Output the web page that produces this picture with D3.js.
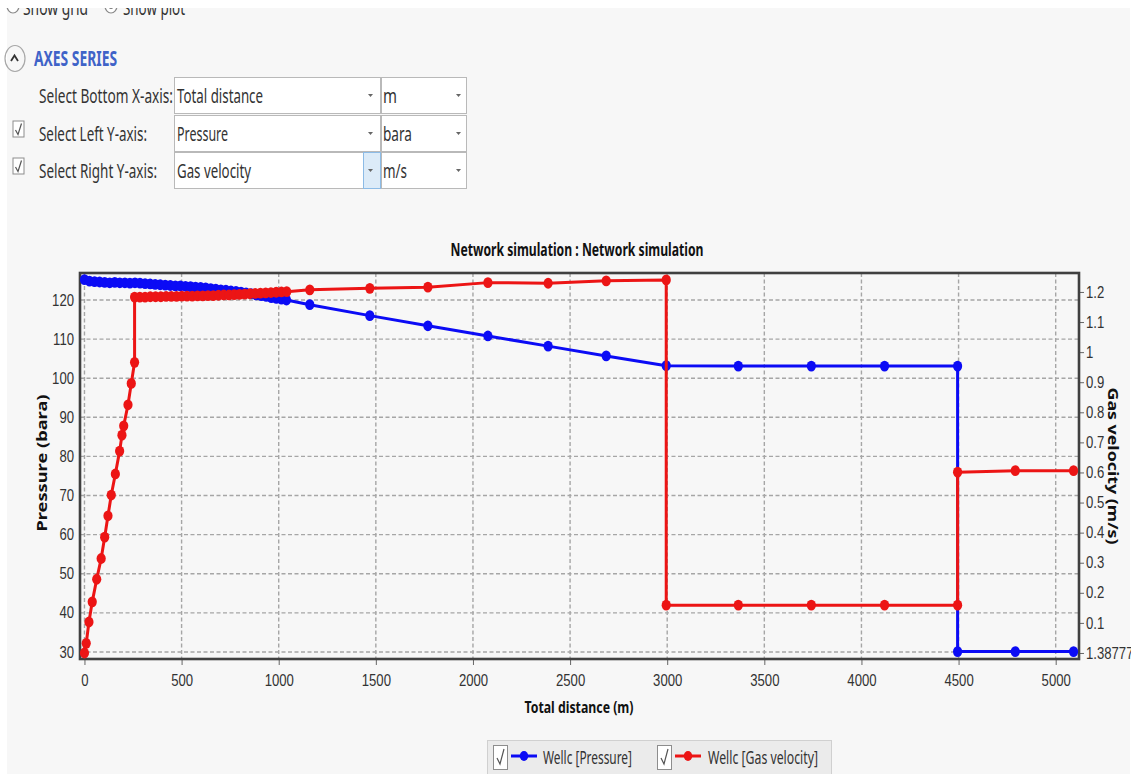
<!DOCTYPE html>
<html>
<head>
<meta charset="utf-8">
<script src="https://cdn.jsdelivr.net/npm/d3@7"></script>
<style>
  html, body { margin: 0; padding: 0; background: #ffffff; }
  svg { display: block; font-family: "Noto Sans", "Open Sans", sans-serif; }
</style>
</head>
<body>
<svg id="view" width="1135" height="774"></svg>
<script>
// ---- Axis ticks ----
const distanceTicks = [0, 500, 1000, 1500, 2000, 2500, 3000, 3500, 4000, 4500, 5000];
const pressureTicks = [30, 40, 50, 60, 70, 80, 90, 100, 110, 120];
const velocityTicks = [0, 0.1, 0.2, 0.3, 0.4, 0.5, 0.6, 0.7, 0.8, 0.9, 1, 1.1, 1.2];
const velocityTickLabels = ["1.38777e-17", "0.1", "0.2", "0.3", "0.4", "0.5", "0.6", "0.7", "0.8", "0.9", "1", "1.1", "1.2"];

// ---- Wellc [Pressure] (bara) vs total distance (m) ----
const pressureDistance = [
  0, 26, 52, 78, 104, 130, 156, 182, 208, 234, 260, 286, 312, 338, 364, 390, 416, 442, 468, 494,
  520, 546, 572, 598, 624, 650, 676, 702, 728, 754, 780, 806, 832, 858, 884, 910, 936, 962, 988, 1014, 1040,
  1160, 1469, 1768, 2077, 2387, 2686, 2995, 3366, 3742, 4119, 4495, 4495, 4792, 5092
];
const pressureValue = [
  125.2, 124.8, 124.7, 124.6, 124.5, 124.4, 124.5, 124.4, 124.4, 124.3, 124.4, 124.3, 124.2, 124.1, 124.0, 123.9, 123.8, 123.7, 123.6, 123.6,
  123.5, 123.4, 123.3, 123.2, 123.1, 122.9, 122.8, 122.6, 122.5, 122.3, 122.2, 122.0, 121.8, 121.6, 121.3, 121.1, 120.9, 120.6, 120.4, 120.2, 120.0,
  118.8, 116.0, 113.4, 110.8, 108.2, 105.7, 103.2, 103.1, 103.1, 103.1, 103.1, 30.1, 30.1, 30.1
];

// ---- Wellc [Gas velocity] (m/s) vs total distance (m) ----
const velocityDistance = [
  0, 9, 23, 40, 63, 86, 104, 121, 138, 159, 181, 193, 202, 224, 241, 258,
  258, 285, 312, 339, 366, 393, 420, 447, 474, 501, 528, 555, 582, 609, 636, 663, 690, 717, 744, 771,
  798, 825, 852, 879, 906, 933, 960, 987, 1014, 1041,
  1160, 1469, 1768, 2077, 2387, 2686, 2995, 2995, 3366, 3742, 4119, 4495, 4495, 4792, 5092
];
const velocityValue = [
  0.000, 0.032, 0.103, 0.170, 0.245, 0.314, 0.385, 0.456, 0.525, 0.595, 0.671, 0.724, 0.755, 0.825, 0.896, 0.966,
  1.183, 1.183, 1.183, 1.184, 1.184, 1.184, 1.185, 1.185, 1.185, 1.186, 1.186, 1.186, 1.187, 1.187, 1.188, 1.188, 1.189, 1.190, 1.190, 1.191,
  1.192, 1.193, 1.194, 1.195, 1.196, 1.197, 1.198, 1.199, 1.200, 1.201,
  1.207, 1.212, 1.216, 1.231, 1.229, 1.237, 1.240, 0.159, 0.159, 0.159, 0.159, 0.159, 0.601, 0.606, 0.606
];

const BLUE = "#0b0bf5";
const RED = "#ec1515";
const TEXT = "#333333";

const svg = d3.select("#view");

// squeeze a text element to a given drawn width
function fitWidth(sel, w) {
  sel.attr("textLength", w).attr("lengthAdjust", "spacingAndGlyphs");
  return sel;
}
function squeeze(sel, k) {
  sel.each(function () {
    const n = this.getComputedTextLength();
    d3.select(this).attr("textLength", n * k).attr("lengthAdjust", "spacingAndGlyphs");
  });
}

// ---- Panel background ----
svg.append("rect").attr("width", 1135).attr("height", 774).attr("fill", "#ffffff");
svg.append("rect").attr("x", 7).attr("y", 0).attr("width", 1123).attr("height", 774).attr("fill", "#f7f7f7");

// ---- Display options row (partly scrolled out of view) ----
const opts = svg.append("g");
opts.append("ellipse").attr("cx", 13).attr("cy", 6).attr("rx", 6).attr("ry", 7)
  .attr("fill", "#ffffff").attr("stroke", "#8a8a8a").attr("stroke-width", 1.2);
fitWidth(opts.append("text").attr("x", 23).attr("y", 15).attr("font-size", 20).attr("fill", TEXT).text("Show grid"), 65);
opts.append("ellipse").attr("cx", 111).attr("cy", 6).attr("rx", 6).attr("ry", 7)
  .attr("fill", "#ffffff").attr("stroke", "#8a8a8a").attr("stroke-width", 1.2);
opts.append("ellipse").attr("cx", 111).attr("cy", 6).attr("rx", 2.5).attr("ry", 3).attr("fill", "#777");
fitWidth(opts.append("text").attr("x", 123).attr("y", 15).attr("font-size", 20).attr("fill", TEXT).text("Show plot"), 62);
svg.append("rect").attr("x", 0).attr("y", 0).attr("width", 1135).attr("height", 8).attr("fill", "#ffffff");

// ---- AXES SERIES section header ----
svg.append("ellipse").attr("cx", 15).attr("cy", 58.5).attr("rx", 10).attr("ry", 13)
  .attr("fill", "none").attr("stroke", "#a8a8a8").attr("stroke-width", 1.2);
svg.append("path").attr("d", "M11,61 L14.5,55.5 L18,61").attr("fill", "none")
  .attr("stroke", "#333").attr("stroke-width", 1.8);
fitWidth(svg.append("text").attr("x", 34).attr("y", 66).attr("font-size", 21).attr("font-weight", 700)
  .attr("fill", "#3f63c8").text("AXES SERIES"), 83);

// ---- Axis selectors ----
const rows = [
  { label: "Select Bottom X-axis:", lw: 134, value: "Total distance", vw: 86, unit: "m", uw: 14, y: 77, check: false, hot: false },
  { label: "Select Left Y-axis:", lw: 108, value: "Pressure", vw: 51, unit: "bara", uw: 29, y: 115, check: true, hot: false },
  { label: "Select Right Y-axis:", lw: 118, value: "Gas velocity", vw: 74, unit: "m/s", uw: 24, y: 152, check: true, hot: true }
];
rows.forEach(r => {
  const g = svg.append("g");
  const h = 36;
  const base = r.y + 26;
  if (r.check) {
    g.append("rect").attr("x", 13).attr("y", r.y + 6).attr("width", 11).attr("height", 16)
      .attr("fill", "#ffffff").attr("stroke", "#8d8d8d").attr("stroke-width", 1);
    g.append("path").attr("d", `M15.5,${r.y + 15} L18,${r.y + 19.5} L21.5,${r.y + 8.5}`)
      .attr("fill", "none").attr("stroke", "#555").attr("stroke-width", 1.2);
  }
  fitWidth(g.append("text").attr("x", 39).attr("y", base).attr("font-size", 19).attr("fill", TEXT).text(r.label), r.lw);
  g.append("rect").attr("x", 174.5).attr("y", r.y + 0.5).attr("width", 206).attr("height", h)
    .attr("fill", "#ffffff").attr("stroke", "#b9b9b9");
  if (r.hot) {
    g.append("rect").attr("x", 363.5).attr("y", r.y + 0.5).attr("width", 17).attr("height", h)
      .attr("fill", "#dcebf8").attr("stroke", "#8cbbe6");
  }
  fitWidth(g.append("text").attr("x", 177).attr("y", base).attr("font-size", 19).attr("fill", TEXT).text(r.value), r.vw);
  g.append("path").attr("d", `M368,${r.y + 17} L373,${r.y + 17} L370.5,${r.y + 20} Z`).attr("fill", "#666");
  g.append("rect").attr("x", 381.5).attr("y", r.y + 0.5).attr("width", 85).attr("height", h)
    .attr("fill", "#ffffff").attr("stroke", "#b9b9b9");
  fitWidth(g.append("text").attr("x", 383).attr("y", base).attr("font-size", 19).attr("fill", TEXT).text(r.unit), r.uw);
  g.append("path").attr("d", `M456,${r.y + 17} L461,${r.y + 17} L458.5,${r.y + 20} Z`).attr("fill", "#666");
});

// ---- Chart ----
const L = 80, R = 1079, T = 273, B = 659;
const x = d3.scaleLinear().domain([-23, 5120]).range([L, R]);
const yL = d3.scaleLinear().domain([28.2, 126.9]).range([B, T]);
const yR = d3.scaleLinear().domain([-0.02, 1.263]).range([B, T]);

fitWidth(svg.append("text").attr("x", 577).attr("y", 256).attr("text-anchor", "middle")
  .attr("font-size", 17).attr("font-weight", 700).attr("fill", "#111")
  .text("Network simulation : Network simulation"), 253);

// grid
const grid = svg.append("g").attr("stroke", "#a6a6a6").attr("stroke-width", 1.4).attr("stroke-dasharray", "4,2.5");
grid.selectAll("line.v").data(distanceTicks).join("line").attr("class", "v")
  .attr("x1", d => x(d)).attr("x2", d => x(d)).attr("y1", T).attr("y2", B);
grid.selectAll("line.h").data(pressureTicks).join("line").attr("class", "h")
  .attr("x1", L).attr("x2", R).attr("y1", d => yL(d)).attr("y2", d => yL(d));

// bottom axis
const gx = svg.append("g").attr("transform", `translate(0,${B})`)
  .call(d3.axisBottom(x).tickValues(distanceTicks).tickSize(6).tickPadding(10).tickFormat(d3.format("d")));
gx.select(".domain").remove();
gx.selectAll(".tick line").attr("stroke", "#666").attr("stroke-width", 1);
gx.selectAll(".tick text").attr("font-size", 16).attr("fill", TEXT).attr("font-family", null);
squeeze(gx.selectAll(".tick text"), 0.82);

// left axis
const gl = svg.append("g").attr("transform", `translate(${L},0)`)
  .call(d3.axisLeft(yL).tickValues(pressureTicks).tickSize(0).tickPadding(6).tickFormat(d3.format("d")));
gl.select(".domain").remove();
gl.selectAll(".tick text").attr("font-size", 16).attr("fill", TEXT).attr("font-family", null);
squeeze(gl.selectAll(".tick text"), 0.82);

// right axis
const gr = svg.append("g").attr("transform", `translate(${R},0)`)
  .call(d3.axisRight(yR).tickValues(velocityTicks).tickSize(5).tickPadding(2)
    .tickFormat((d, i) => velocityTickLabels[i]));
gr.select(".domain").remove();
gr.selectAll(".tick line").attr("stroke", "#666").attr("stroke-width", 1);
gr.selectAll(".tick text").attr("font-size", 16).attr("fill", TEXT).attr("font-family", null);
squeeze(gr.selectAll(".tick text"), 0.82);

// frame
svg.append("rect").attr("x", L).attr("y", T).attr("width", R - L).attr("height", B - T)
  .attr("fill", "none").attr("stroke", "#404040").attr("stroke-width", 2.6);

// axis titles
fitWidth(svg.append("text").attr("x", 579).attr("y", 713).attr("text-anchor", "middle")
  .attr("font-size", 16).attr("font-weight", 700).attr("fill", "#111").text("Total distance (m)"), 109);
fitWidth(svg.append("text").attr("transform", "translate(47,463) rotate(-90)").attr("text-anchor", "middle")
  .attr("font-size", 15).attr("font-weight", 700).attr("fill", "#111").text("Pressure  (bara)"), 137);
fitWidth(svg.append("text").attr("transform", "translate(1108,466) rotate(90)").attr("text-anchor", "middle")
  .attr("font-size", 15).attr("font-weight", 700).attr("fill", "#111").text("Gas velocity  (m/s)"), 157);

// series
const pressure = pressureDistance.map((d, i) => ({ d, v: pressureValue[i] }));
const velocity = velocityDistance.map((d, i) => ({ d, v: velocityValue[i] }));

const plot = svg.append("g");
function drawSeries(data, y, color) {
  const g = plot.append("g");
  g.append("path").datum(data)
    .attr("d", d3.line().x(p => x(p.d)).y(p => y(p.v)))
    .attr("fill", "none").attr("stroke", color).attr("stroke-width", 3).attr("stroke-linejoin", "round");
  g.selectAll("ellipse").data(data).join("ellipse")
    .attr("cx", p => x(p.d)).attr("cy", p => y(p.v)).attr("rx", 4.6).attr("ry", 5.4).attr("fill", color);
}
drawSeries(pressure, yL, BLUE);
drawSeries(velocity, yR, RED);

// ---- Legend ----
const lg = svg.append("g");
lg.append("rect").attr("x", 487.5).attr("y", 740.5).attr("width", 344).attr("height", 40)
  .attr("fill", "#ebebeb").attr("stroke", "#d0d0d0");
const legendItems = [
  { label: "Wellc [Pressure]", color: BLUE, cx: 493, lx: 511, tx: 543, tw: 89 },
  { label: "Wellc [Gas velocity]", color: RED, cx: 657, lx: 675, tx: 708, tw: 110 }
];
legendItems.forEach(it => {
  lg.append("rect").attr("x", it.cx + 0.5).attr("y", 745.5).attr("width", 14).attr("height", 24)
    .attr("fill", "#ffffff").attr("stroke", "#8d8d8d");
  lg.append("path").attr("d", `M${it.cx + 4},${it.cx === 493 ? 758 : 758} L${it.cx + 7},764 L${it.cx + 11},749`)
    .attr("fill", "none").attr("stroke", "#555").attr("stroke-width", 1.2);
  lg.append("line").attr("x1", it.lx).attr("x2", it.lx + 26).attr("y1", 756).attr("y2", 756)
    .attr("stroke", it.color).attr("stroke-width", 3);
  lg.append("ellipse").attr("cx", it.lx + 13).attr("cy", 756).attr("rx", 4.2).attr("ry", 5).attr("fill", it.color);
  fitWidth(lg.append("text").attr("x", it.tx).attr("y", 764).attr("font-size", 18).attr("fill", TEXT).text(it.label), it.tw);
});

// right-hand edge of the panel
svg.append("rect").attr("x", 1131).attr("y", 0).attr("width", 4).attr("height", 774).attr("fill", "#ffffff");
</script>
</body>
</html>
